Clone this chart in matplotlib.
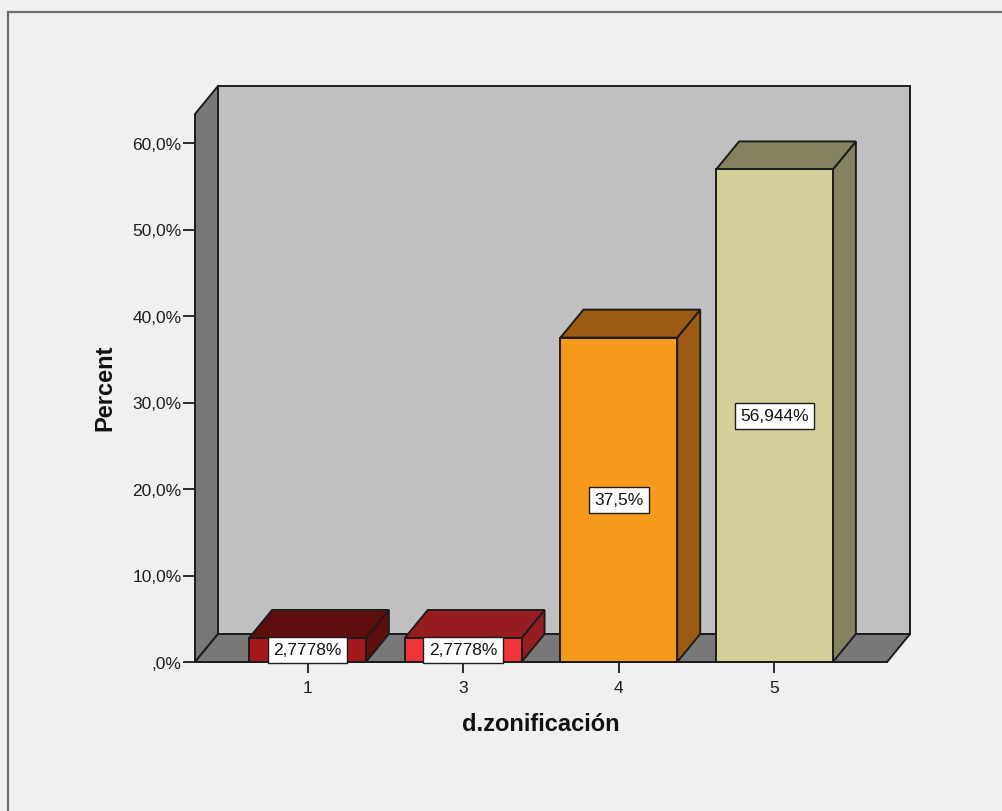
import matplotlib
matplotlib.use("Agg")
import matplotlib.pyplot as plt
from matplotlib.patches import Polygon, Rectangle

# Distribution of d.zonificación (percent of cases)
categories = ["1", "3", "4", "5"]
percents = [2.7778, 2.7778, 37.5, 56.944]
y_ticks = [0, 10, 20, 30, 40, 50, 60]
y_tick_labels = [",0%", "10,0%", "20,0%", "30,0%", "40,0%", "50,0%", "60,0%"]

front_colors = ["#a3181b", "#ef343c", "#f7991d", "#d3cf98"]
shade_colors = ["#5e0e0f", "#951d22", "#9b5b13", "#848260"]

BG = "#f0f0f0"
EDGE = "#1c1c1c"
FONT = "Liberation Sans"

W, H = 1003, 812
fig = plt.figure(figsize=(W / 100, H / 100), dpi=100, facecolor=BG)

# plot area = front plane of the 3D box
left_px, right_px, zero_px = 195, 887, 663
px_per_pct = 8.65
y_max = 66.0
ax = fig.add_axes([left_px / W, (H - zero_px) / H,
                   (right_px - left_px) / W, y_max * px_per_pct / H])
ax.set_facecolor("none")
x = list(range(len(categories)))
half_span = 0.7227
xl, xr = -half_span, len(categories) - 1 + half_span
ax.set_xlim(xl, xr)
ax.set_ylim(0, y_max)
for s in ax.spines.values():
    s.set_visible(False)

# depth of the 3D extrusion (in data units)
px_per_x = (right_px - left_px) / (xr - xl)
dx = 23 / px_per_x
dy = 28 / px_per_pct
wall_top = 63.35
bar_w = 0.75

def poly(pts, fc, z):
    ax.add_patch(Polygon(pts, closed=True, facecolor=fc, edgecolor=EDGE,
                         linewidth=1.4, joinstyle="miter", zorder=z, clip_on=False))

# back wall, left wall and floor
poly([(xl + dx, dy), (xr + dx, dy), (xr + dx, wall_top + dy), (xl + dx, wall_top + dy)], "#c0c0c0", 1)
poly([(xl, 0), (xl + dx, dy), (xl + dx, wall_top + dy), (xl, wall_top)], "#787878", 2)
poly([(xl, 0), (xr, 0), (xr + dx, dy), (xl + dx, dy)], "#787878", 2)

# bars
for xi, v, fc, sc in zip(x, percents, front_colors, shade_colors):
    a, b = xi - bar_w / 2, xi + bar_w / 2
    poly([(b, 0), (b + dx, dy), (b + dx, v + dy), (b, v)], sc, 3)
    poly([(a, v), (b, v), (b + dx, v + dy), (a + dx, v + dy)], sc, 3)
    poly([(a, 0), (b, 0), (b, v), (a, v)], fc, 4)
    label = f"{v:g}".replace(".", ",") + "%"
    ax.text(xi, v / 2, label, ha="center", va="center", fontsize=12.5,
            family=FONT, color="#111111", zorder=6,
            bbox=dict(boxstyle="square,pad=0.32", facecolor="white",
                      edgecolor=EDGE, linewidth=1.0))

# axes ticks and labels
ax.set_yticks(y_ticks)
ax.set_yticklabels(y_tick_labels)
ax.set_xticks(x)
ax.set_xticklabels(categories)
ax.tick_params(axis="y", length=8.6, width=1.3, color=EDGE, pad=1,
               labelsize=12.5, labelcolor="#1e1e1e")
ax.tick_params(axis="x", length=8.0, width=1.3, color=EDGE, pad=5,
               labelsize=12.5, labelcolor="#1e1e1e")
for t in ax.get_xticklabels() + ax.get_yticklabels():
    t.set_family(FONT)
# zero line extends to the tick
ax.plot([xl, xr], [0, 0], color=EDGE, lw=1.4, zorder=5, clip_on=False)

ax.set_xlabel("d.zonificación", fontsize=17, fontweight="bold", family=FONT,
              color="#111111", labelpad=12)
ax.set_ylabel("Percent", fontsize=17, fontweight="bold", family=FONT,
              color="#111111", va="center")
ax.yaxis.set_label_coords(-0.13, 0.482)

# outer frame of the chart area
fig.add_artist(Rectangle((8 / W, -0.1), 1.2, (H - 13) / H + 0.1,
                         transform=fig.transFigure, fill=False,
                         edgecolor="#6e6e6e", linewidth=1.6))

fig.savefig("out.png", dpi=100, facecolor=BG)
